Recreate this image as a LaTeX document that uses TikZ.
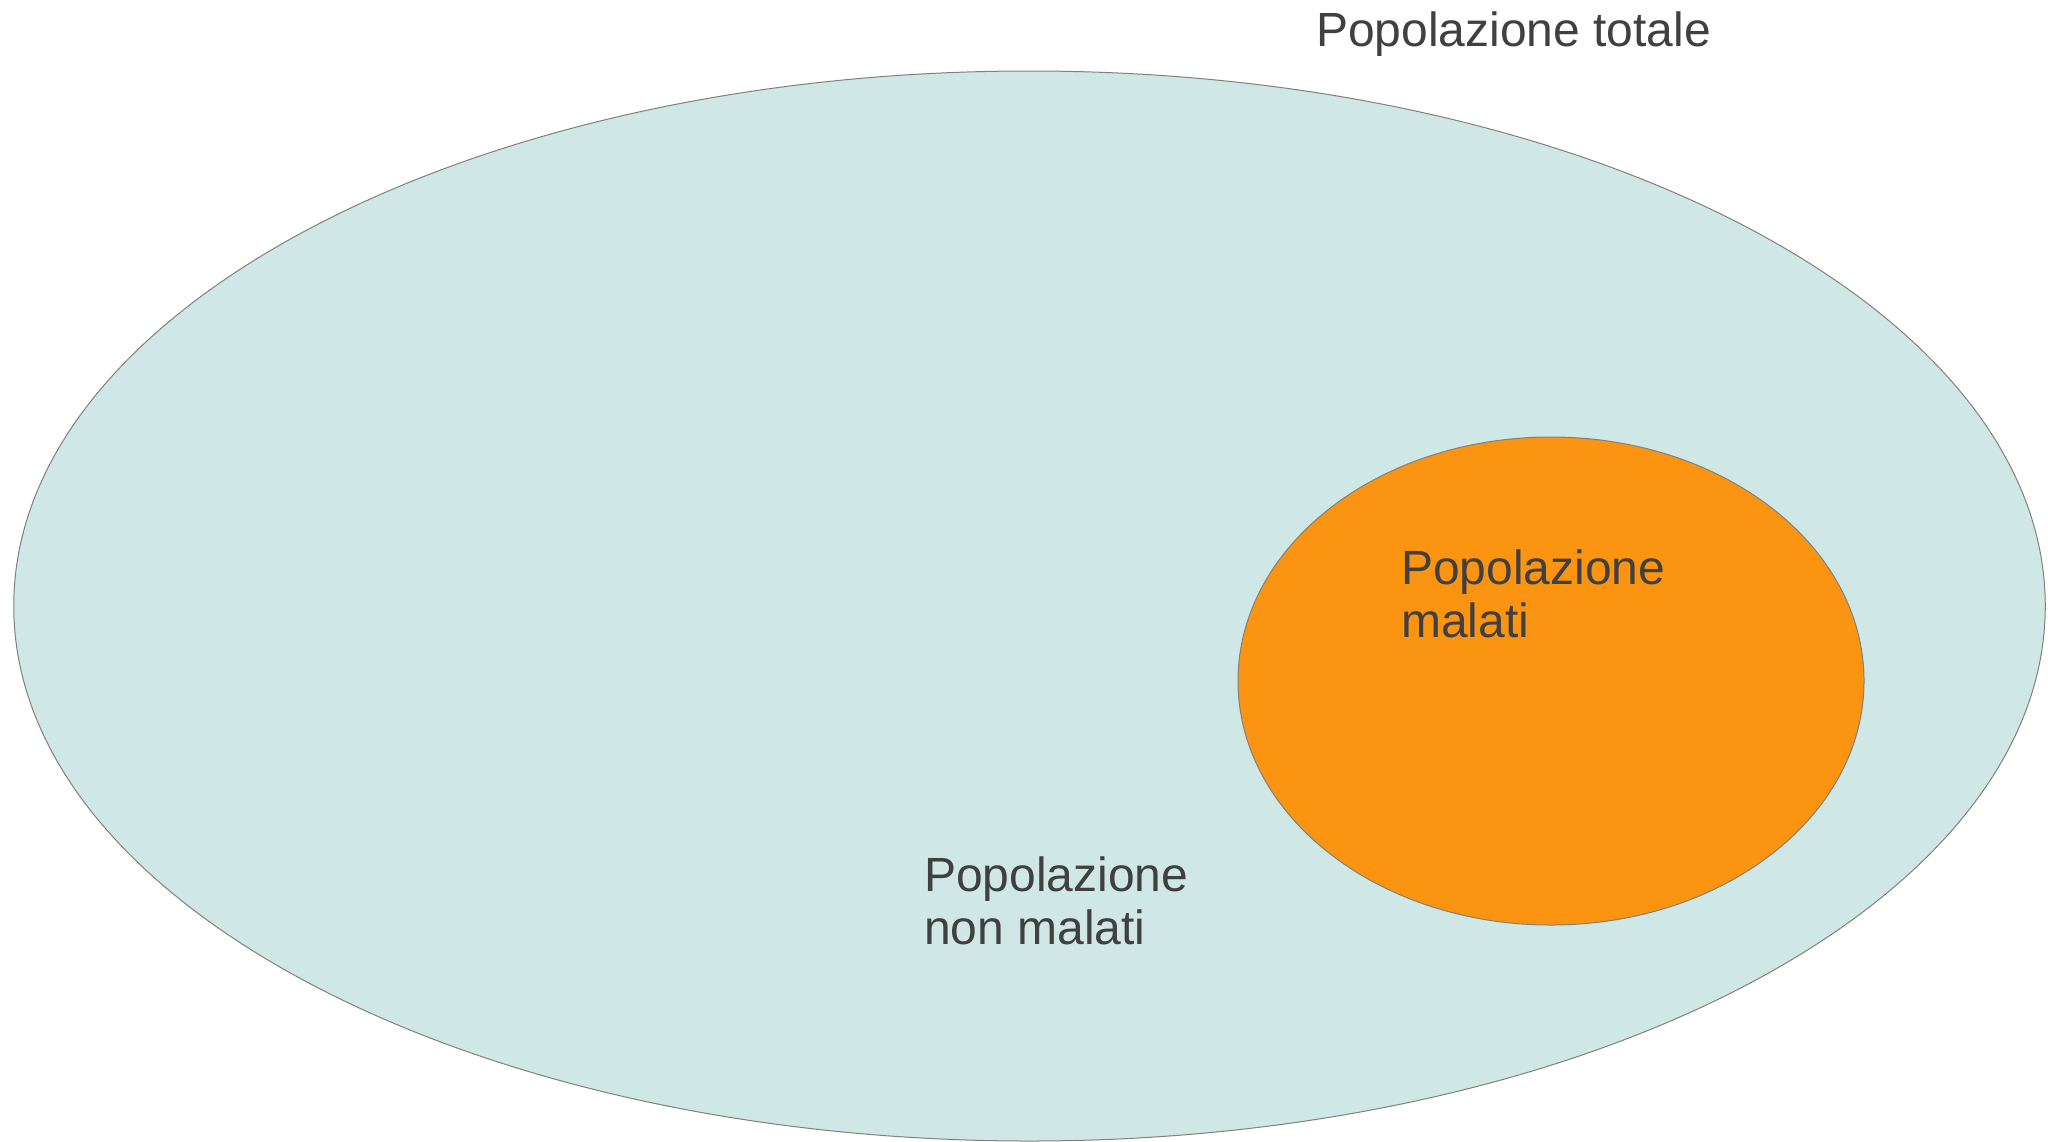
\documentclass[tikz,border=0pt]{standalone}
\usepackage{fontspec}
\setmainfont{Liberation Sans}
\usetikzlibrary{shapes.geometric}
\definecolor{setfill}{RGB}{208,232,229}
\definecolor{subfill}{RGB}{251,148,17}
\definecolor{setline}{RGB}{128,128,128}
\definecolor{labeltext}{RGB}{64,64,64}
\tikzset{
  setshape/.style={ellipse, draw=setline, line width=0.5pt, inner sep=0pt, outer sep=0pt},
  setlabel/.style={anchor=north west, inner sep=0pt, outer sep=0pt, align=left,
    text=labeltext, font=\fontsize{24pt}{26.5pt}\selectfont}
}
\begin{document}
\begin{tikzpicture}[x=0.5pt,y=-0.5pt]
\useasboundingbox (0,0) rectangle (2048,1141);
\fill[white] (0,0) rectangle (2048,1141);
\begin{scope}
\clip (0,0) rectangle (2048,1141);
\node[setshape, fill=setfill, minimum width=1015.75pt, minimum height=535pt] (total) at (1029.5,606) {};
\end{scope}
\node[setshape, fill=subfill, minimum width=313pt, minimum height=244pt] (malati) at (1551,681) {};
\node[setlabel] (ltot) at (1316,12) {Popolazione totale};
\node[setlabel] (lmal) at (1401,550) {Popolazione\\malati};
\node[setlabel] (lnon) at (924,857) {Popolazione\\non malati};
\end{tikzpicture}
\end{document}
